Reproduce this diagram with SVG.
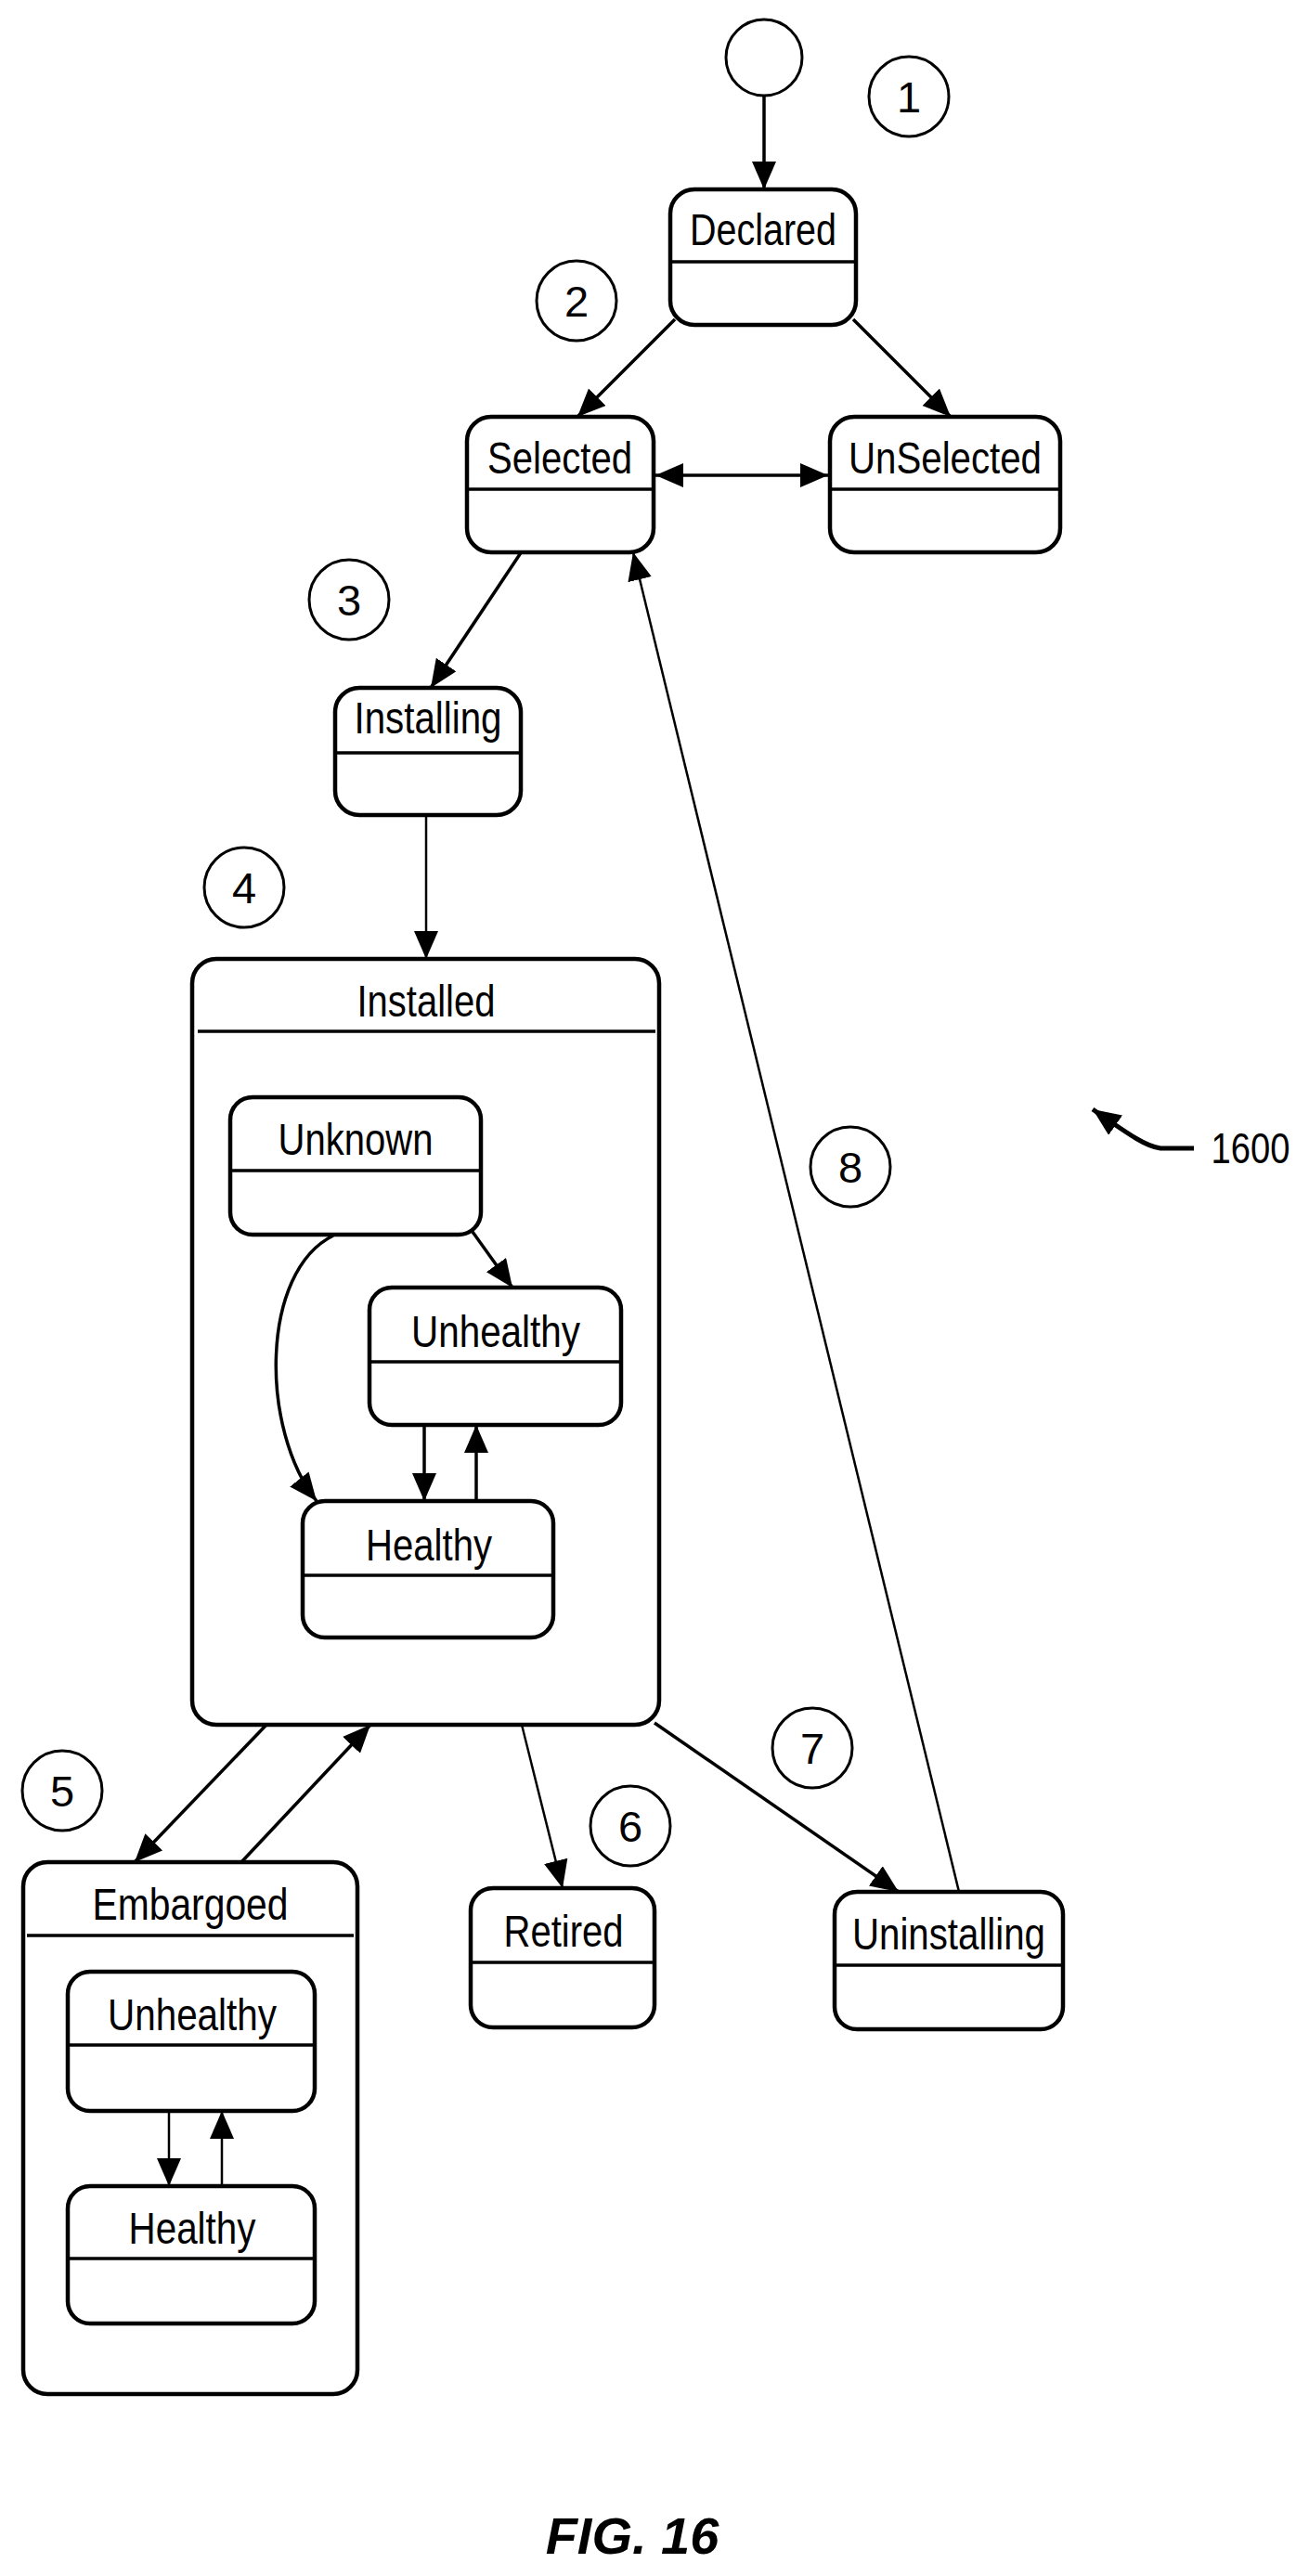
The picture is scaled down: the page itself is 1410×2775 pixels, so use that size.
<svg xmlns="http://www.w3.org/2000/svg" width="1410" height="2775" viewBox="0 0 1410 2775">
<style>
.box{fill:#fff;stroke:#000;stroke-width:4.5}
.div{stroke:#000;stroke-width:3.5}
.t{font-family:"Liberation Sans",Arial,sans-serif;font-size:49px;text-anchor:middle;fill:#000}
.n{font-family:"Liberation Sans",Arial,sans-serif;font-size:47px;text-anchor:middle;fill:#000}
.c{fill:none;stroke:#000;stroke-width:3}
.e{fill:none;stroke:#000;stroke-width:3.5}
.e2{fill:none;stroke:#000;stroke-width:2.5}
</style>
<defs>
<marker id="a" markerUnits="userSpaceOnUse" markerWidth="32" markerHeight="28" refX="30" refY="13" orient="auto">
<path d="M0,0 L30,13 L0,26 Z" fill="#000"/>
</marker>
<marker id="as" markerUnits="userSpaceOnUse" markerWidth="32" markerHeight="28" refX="30" refY="13" orient="auto-start-reverse">
<path d="M0,0 L30,13 L0,26 Z" fill="#000"/>
</marker>
</defs>
<rect width="1410" height="2775" fill="#fff"/>

<g id="start"><circle class="c" cx="823" cy="62" r="41"/></g>

<g id="declared">
<rect class="box" x="722" y="204" width="200" height="146" rx="26"/>
<line class="div" x1="722" y1="282" x2="922" y2="282"/>
<text class="t" x="822" y="264" textLength="158" lengthAdjust="spacingAndGlyphs">Declared</text>
</g>
<g id="selected">
<rect class="box" x="503" y="449" width="201" height="146" rx="26"/>
<line class="div" x1="503" y1="527" x2="704" y2="527"/>
<text class="t" x="603" y="510" textLength="156" lengthAdjust="spacingAndGlyphs">Selected</text>
</g>
<g id="unselected">
<rect class="box" x="894" y="449" width="248" height="146" rx="26"/>
<line class="div" x1="894" y1="527" x2="1142" y2="527"/>
<text class="t" x="1018" y="510" textLength="208" lengthAdjust="spacingAndGlyphs">UnSelected</text>
</g>
<g id="installing">
<rect class="box" x="361" y="741" width="200" height="137" rx="26"/>
<line class="div" x1="361" y1="811" x2="561" y2="811"/>
<text class="t" x="461" y="790" textLength="159" lengthAdjust="spacingAndGlyphs">Installing</text>
</g>
<g id="installed">
<rect class="box" x="207" y="1033" width="503" height="825" rx="26"/>
<line class="div" x1="213" y1="1111" x2="706" y2="1111"/>
<text class="t" x="459" y="1095" textLength="149" lengthAdjust="spacingAndGlyphs">Installed</text>
</g>
<g id="unknown">
<rect class="box" x="248" y="1182" width="270" height="148" rx="24"/>
<line class="div" x1="248" y1="1261" x2="518" y2="1261"/>
<text class="t" x="383" y="1244" textLength="167" lengthAdjust="spacingAndGlyphs">Unknown</text>
</g>
<g id="unhealthy">
<rect class="box" x="398" y="1387" width="271" height="148" rx="24"/>
<line class="div" x1="398" y1="1467" x2="669" y2="1467"/>
<text class="t" x="534" y="1451" textLength="182" lengthAdjust="spacingAndGlyphs">Unhealthy</text>
</g>
<g id="healthy">
<rect class="box" x="326" y="1617" width="270" height="147" rx="24"/>
<line class="div" x1="326" y1="1697" x2="596" y2="1697"/>
<text class="t" x="462" y="1681" textLength="136" lengthAdjust="spacingAndGlyphs">Healthy</text>
</g>
<g id="embargoed">
<rect class="box" x="25" y="2006" width="360" height="573" rx="26"/>
<line class="div" x1="29" y1="2085" x2="381" y2="2085"/>
<text class="t" x="205" y="2068" textLength="211" lengthAdjust="spacingAndGlyphs">Embargoed</text>
</g>
<g id="emb-unhealthy">
<rect class="box" x="73" y="2124" width="266" height="150" rx="24"/>
<line class="div" x1="73" y1="2203" x2="339" y2="2203"/>
<text class="t" x="207" y="2187" textLength="182" lengthAdjust="spacingAndGlyphs">Unhealthy</text>
</g>
<g id="emb-healthy">
<rect class="box" x="73" y="2355" width="266" height="148" rx="24"/>
<line class="div" x1="73" y1="2433" x2="339" y2="2433"/>
<text class="t" x="207" y="2417" textLength="137" lengthAdjust="spacingAndGlyphs">Healthy</text>
</g>
<g id="retired">
<rect class="box" x="507" y="2034" width="198" height="150" rx="24"/>
<line class="div" x1="507" y1="2114" x2="705" y2="2114"/>
<text class="t" x="607" y="2097" textLength="129" lengthAdjust="spacingAndGlyphs">Retired</text>
</g>
<g id="uninstalling">
<rect class="box" x="899" y="2038" width="246" height="148" rx="24"/>
<line class="div" x1="899" y1="2117" x2="1145" y2="2117"/>
<text class="t" x="1022" y="2100" textLength="208" lengthAdjust="spacingAndGlyphs">Uninstalling</text>
</g>

<g id="step1"><circle class="c" cx="979" cy="104" r="43"/><text class="n" x="979" y="121">1</text></g>
<g id="step2"><circle class="c" cx="621" cy="324" r="43"/><text class="n" x="621" y="341">2</text></g>
<g id="step3"><circle class="c" cx="376" cy="646" r="43"/><text class="n" x="376" y="663">3</text></g>
<g id="step4"><circle class="c" cx="263" cy="956" r="43"/><text class="n" x="263" y="973">4</text></g>
<g id="step5"><circle class="c" cx="67" cy="1929" r="43"/><text class="n" x="67" y="1946">5</text></g>
<g id="step6"><circle class="c" cx="679" cy="1967" r="43"/><text class="n" x="679" y="1984">6</text></g>
<g id="step7"><circle class="c" cx="875" cy="1883" r="43"/><text class="n" x="875" y="1900">7</text></g>
<g id="step8"><circle class="c" cx="916" cy="1257" r="43"/><text class="n" x="916" y="1274">8</text></g>

<g id="connectors">
<line class="e" x1="823" y1="103" x2="823" y2="204" marker-end="url(#a)"/>
<line class="e" x1="727" y1="344" x2="622" y2="449" marker-end="url(#a)"/>
<line class="e" x1="919" y1="344" x2="1024" y2="449" marker-end="url(#a)"/>
<line class="e" x1="706" y1="512" x2="892" y2="512" marker-start="url(#as)" marker-end="url(#as)"/>
<line class="e" x1="562" y1="594" x2="464" y2="741" marker-end="url(#a)"/>
<line class="e2" x1="459" y1="878" x2="459" y2="1033" marker-end="url(#a)"/>
<line class="e" x1="509" y1="1327" x2="552" y2="1387" marker-end="url(#a)"/>
<path class="e" d="M359,1331 C280,1370 280,1540 341,1617" marker-end="url(#a)"/>
<line class="e" x1="457" y1="1535" x2="457" y2="1617" marker-end="url(#a)"/>
<line class="e" x1="513" y1="1617" x2="513" y2="1535" marker-end="url(#a)"/>
<line class="e" x1="287" y1="1858" x2="145" y2="2006" marker-end="url(#a)"/>
<line class="e" x1="260" y1="2006" x2="399" y2="1858" marker-end="url(#a)"/>
<line class="e2" x1="562" y1="1858" x2="606" y2="2034" marker-end="url(#a)"/>
<line class="e" x1="705" y1="1856" x2="968" y2="2038" marker-end="url(#a)"/>
<line class="e2" x1="1033" y1="2038" x2="682" y2="595" marker-end="url(#a)"/>
<line class="e2" x1="182" y1="2274" x2="182" y2="2355" marker-end="url(#a)"/>
<line class="e2" x1="239" y1="2355" x2="239" y2="2274" marker-end="url(#a)"/>
</g>

<g id="ref1600">
<path d="M1286,1237 L1250,1237 C1235,1235 1220,1225 1177,1195" fill="none" stroke="#000" stroke-width="5" marker-end="url(#a)"/>
<text class="n" x="1347" y="1253" textLength="85" lengthAdjust="spacingAndGlyphs">1600</text>
</g>
<text x="681" y="2751" font-family="'Liberation Sans',Arial,sans-serif" font-size="56" font-weight="bold" font-style="italic" text-anchor="middle">FIG. 16</text>
</svg>
